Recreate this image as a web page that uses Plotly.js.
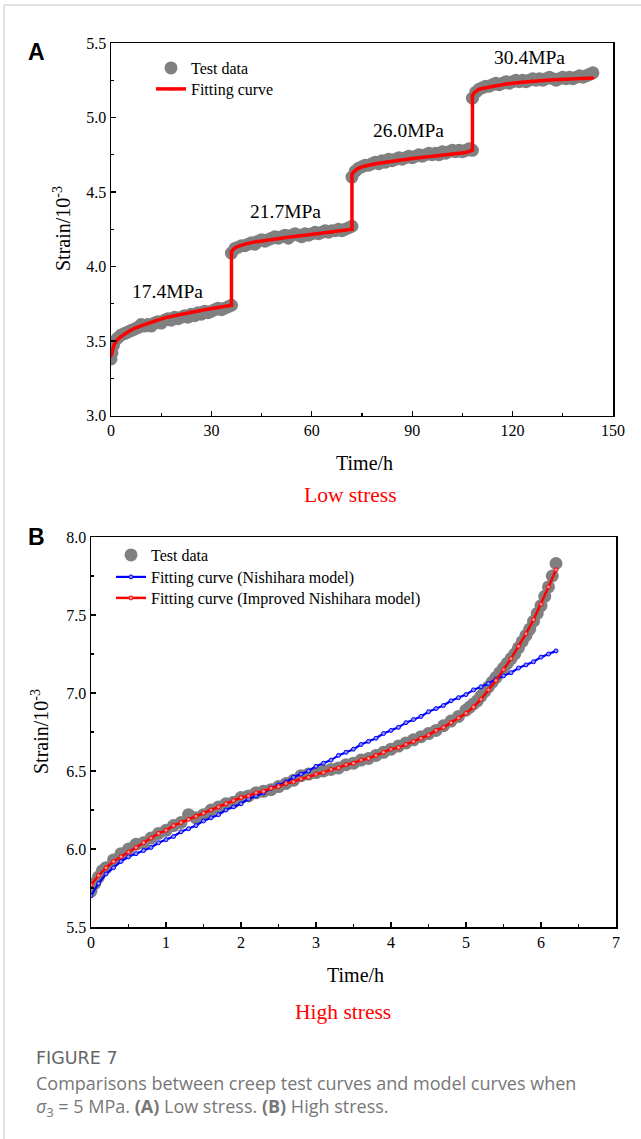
<!DOCTYPE html>
<html>
<head>
<meta charset="utf-8">
<script src="https://cdn.plot.ly/plotly-3.0.1.min.js"></script>
<style>html,body{margin:0;padding:0;background:#fff;}#chart{width:641px;height:1139px;}</style>
</head>
<body>
<div id="chart"></div>
<script>
// ---------- Panel A data (low stress) ----------
const aTestTime = [0,0.3,0.7,1.2,2,3,4,5,6,7,8,9,10,11,12,13,14,15,16,17,18,19,20,21,22,23,24,25,26,27,28,29,30,31,32,33,34,35,36,
  36,37,38,39,40,41,42,43,44,45,46,47,48,49,50,51,52,53,54,55,56,57,58,59,60,61,62,63,64,65,66,67,68,69,70,71,72,
  72,73,74,75,76,77,78,79,80,81,82,83,84,85,86,87,88,89,90,91,92,93,94,95,96,97,98,99,100,101,102,103,104,105,106,107,108,
  108,109,110,111,112,113,114,115,116,117,118,119,120,121,122,123,124,125,126,127,128,129,130,131,132,133,134,135,136,137,138,139,140,141,142,143,144];
const aTestStrain = [3.38,3.42,3.47,3.50,3.52,3.54,3.55,3.56,3.57,3.58,3.59,3.61,3.60,3.61,3.60,3.62,3.63,3.62,3.64,3.65,3.64,3.66,3.65,3.66,3.67,3.66,3.68,3.67,3.69,3.68,3.70,3.69,3.70,3.71,3.72,3.71,3.72,3.73,3.74,
  4.09,4.12,4.13,4.14,4.14,4.15,4.16,4.15,4.17,4.18,4.17,4.18,4.19,4.20,4.19,4.20,4.21,4.19,4.21,4.22,4.21,4.20,4.22,4.21,4.22,4.23,4.22,4.23,4.24,4.23,4.24,4.24,4.25,4.24,4.25,4.26,4.27,
  4.60,4.64,4.66,4.67,4.68,4.68,4.69,4.70,4.69,4.71,4.70,4.72,4.71,4.72,4.73,4.72,4.73,4.74,4.73,4.74,4.75,4.74,4.75,4.76,4.75,4.76,4.75,4.77,4.76,4.77,4.78,4.77,4.78,4.77,4.78,4.79,4.78,
  5.13,5.17,5.19,5.20,5.21,5.21,5.22,5.23,5.22,5.23,5.24,5.23,5.24,5.25,5.24,5.25,5.24,5.25,5.26,5.25,5.26,5.25,5.26,5.27,5.26,5.25,5.26,5.27,5.26,5.27,5.26,5.27,5.28,5.27,5.28,5.29,5.30];
const aFitTime = [0,0.5,1,2,3,5,7,10,13,16,20,24,28,32,36,
  36,36.5,37,38,40,43,46,50,54,58,62,66,70,72,
  72,72.5,73,74,76,79,82,86,90,94,98,102,106,108,
  108,108.5,109,110,112,115,118,122,126,130,134,138,142,144];
const aFitStrain = [3.40,3.45,3.48,3.51,3.53,3.56,3.585,3.61,3.635,3.655,3.675,3.695,3.71,3.725,3.74,
  4.10,4.115,4.125,4.135,4.15,4.165,4.175,4.19,4.20,4.21,4.22,4.23,4.24,4.25,
  4.62,4.635,4.645,4.66,4.675,4.69,4.70,4.715,4.725,4.735,4.745,4.755,4.765,4.78,
  5.15,5.165,5.175,5.19,5.20,5.215,5.225,5.235,5.245,5.25,5.255,5.26,5.265,5.265];
const aStageLabels = ["17.4MPa","21.7MPa","26.0MPa","30.4MPa"];
const aStageLabelX = [17, 52, 89, 125];
const aStageLabelY = [3.83, 4.37, 4.91, 5.40];

// ---------- Panel B data (high stress) ----------
const bTestTime = [0,0.05,0.1,0.15,0.2,0.3,0.4,0.5,0.6,0.7,0.8,0.9,1.0,1.1,1.2,1.3,1.4,1.5,1.6,1.7,1.8,1.9,2.0,2.1,2.2,2.3,2.4,2.5,2.6,2.7,2.8,2.9,3.0,3.1,3.2,3.3,3.4,3.5,3.6,3.7,3.8,3.9,4.0,4.1,4.2,4.3,4.4,4.5,4.6,4.7,4.8,4.9,
  5.0,5.05,5.1,5.15,5.2,5.25,5.3,5.35,5.4,5.45,5.5,5.55,5.6,5.65,5.7,5.75,5.8,5.85,5.9,5.95,6.0,6.05,6.1,6.15,6.2];
const bTestStrain = [5.73,5.78,5.82,5.86,5.88,5.93,5.97,6.00,6.03,6.04,6.07,6.10,6.12,6.15,6.17,6.22,6.20,6.22,6.25,6.27,6.29,6.30,6.33,6.34,6.36,6.37,6.38,6.40,6.42,6.44,6.47,6.48,6.49,6.50,6.51,6.52,6.54,6.55,6.57,6.58,6.60,6.62,6.64,6.66,6.68,6.70,6.72,6.74,6.76,6.79,6.82,6.85,
  6.89,6.91,6.93,6.95,6.98,7.01,7.04,7.07,7.10,7.13,7.16,7.19,7.22,7.25,7.29,7.33,7.37,7.41,7.46,7.51,7.56,7.62,7.68,7.75,7.83];
const bFitTime = [0,0.1,0.2,0.3,0.4,0.5,0.6,0.7,0.8,0.9,1.0,1.1,1.2,1.3,1.4,1.5,1.6,1.7,1.8,1.9,2.0,2.1,2.2,2.3,2.4,2.5,2.6,2.7,2.8,2.9,3.0,3.1,3.2,3.3,3.4,3.5,3.6,3.7,3.8,3.9,4.0,4.1,4.2,4.3,4.4,4.5,4.6,4.7,4.8,4.9,5.0,5.1,5.2,5.3,5.4,5.5,5.6,5.7,5.8,5.9,6.0,6.1,6.2];
const bNishihara = [5.70,5.78,5.84,5.88,5.92,5.95,5.97,5.99,6.01,6.04,6.06,6.08,6.11,6.13,6.15,6.18,6.20,6.22,6.25,6.27,6.29,6.32,6.34,6.36,6.39,6.41,6.43,6.46,6.48,6.50,6.53,6.55,6.57,6.60,6.62,6.64,6.67,6.69,6.71,6.74,6.76,6.78,6.81,6.83,6.85,6.88,6.90,6.92,6.95,6.97,6.99,7.02,7.04,7.06,7.09,7.11,7.13,7.16,7.18,7.20,7.23,7.25,7.27];
const bImproved = [5.77,5.83,5.88,5.92,5.95,5.98,6.01,6.04,6.07,6.10,6.12,6.15,6.17,6.19,6.21,6.23,6.25,6.27,6.29,6.31,6.33,6.34,6.36,6.37,6.39,6.40,6.42,6.43,6.45,6.46,6.48,6.49,6.51,6.52,6.54,6.55,6.57,6.58,6.60,6.62,6.64,6.65,6.67,6.69,6.71,6.73,6.76,6.78,6.81,6.84,6.87,6.91,6.96,7.02,7.08,7.15,7.22,7.30,7.38,7.47,7.57,7.68,7.79];

// ---------- layout helpers ----------
const W = 641, H = 1139;
const px = x => x / W;
const py = y => 1 - y / H;
const serif = "Liberation Serif, Times New Roman, serif";
const sans = "Liberation Sans, Arial, sans-serif";
const capFont = "Open Sans, Noto Sans, sans-serif";

const traces = [
  {x: aTestTime, y: aTestStrain, xaxis: 'x', yaxis: 'y', mode: 'markers', name: 'Test data', legend: 'legend',
   marker: {color: '#808080', size: 13, line: {width: 0}}},
  {x: aFitTime, y: aFitStrain, xaxis: 'x', yaxis: 'y', mode: 'lines+markers', name: 'Fitting curve', legend: 'legend2',
   line: {color: '#ff0000', width: 3.5}, marker: {color: '#ff0000', size: 3}},
  {x: bTestTime, y: bTestStrain, xaxis: 'x2', yaxis: 'y2', mode: 'markers', name: 'Test data', legend: 'legend3',
   marker: {color: '#808080', size: 13, line: {width: 0}}},
  {x: bFitTime, y: bNishihara, xaxis: 'x2', yaxis: 'y2', mode: 'lines+markers', name: 'Fitting curve (Nishihara model)', legend: 'legend4',
   line: {color: '#0000ff', width: 2.2}, marker: {color: '#9090ff', size: 4, line: {color: '#0000ff', width: 1}}},
  {x: bFitTime, y: bImproved, xaxis: 'x2', yaxis: 'y2', mode: 'lines+markers', name: 'Fitting curve (Improved Nishihara model)', legend: 'legend5',
   line: {color: '#ff0000', width: 2.5}, marker: {color: '#ff9090', size: 4, line: {color: '#ff0000', width: 1}}}
];

const axCommon = {
  showline: true, mirror: true, linecolor: '#000', linewidth: 1.5,
  showgrid: false, zeroline: false,
  ticks: 'inside', ticklen: 5, tickwidth: 1.3, tickcolor: '#000',
  tickfont: {family: serif, size: 16, color: '#000'}
};

const annotations = [];
aStageLabels.forEach((t, i) => annotations.push({
  x: aStageLabelX[i], y: aStageLabelY[i], xref: 'x', yref: 'y', text: t, showarrow: false,
  xanchor: 'center', yanchor: 'middle',
  font: {family: serif, size: 19.5, color: '#000'}
}));
const addText = (x, y, text, font, extra) => annotations.push(Object.assign({
  x: px(x), y: py(y), xref: 'paper', yref: 'paper', text: text, showarrow: false, font: font,
  xanchor: 'center', yanchor: 'middle'
}, extra || {}));

addText(36, 52, '<b>A</b>', {family: sans, size: 23, color: '#000'});
addText(36, 537, '<b>B</b>', {family: sans, size: 23, color: '#000'});
addText(364, 463, 'Time/h', {family: serif, size: 20, color: '#000'});
addText(62, 229, 'Strain/10<sup>-3</sup>', {family: serif, size: 20, color: '#000'}, {textangle: -90});
addText(350, 495, 'Low stress', {family: serif, size: 21.5, color: '#ff0000'});
addText(355, 975, 'Time/h', {family: serif, size: 20, color: '#000'});
addText(40, 732, 'Strain/10<sup>-3</sup>', {family: serif, size: 20, color: '#000'}, {textangle: -90});
addText(343, 1012, 'High stress', {family: serif, size: 21.5, color: '#ff0000'});
addText(34, 1058, 'FIGURE 7', {family: "DejaVu Sans, sans-serif", size: 17.5, color: '#666'}, {xanchor: 'left'});
addText(34, 1083, 'Comparisons between creep test curves and model curves when', {family: capFont, size: 18, color: '#777'}, {xanchor: 'left'});
addText(34, 1107, '<i>σ</i><sub>3</sub> = 5 MPa. <b>(A)</b> Low stress. <b>(B)</b> High stress.', {family: capFont, size: 18, color: '#777'}, {xanchor: 'left'});

const legFont = {family: serif, size: 16, color: '#000'};
const mkLegend = (x, y) => ({x: px(x), y: py(y), xanchor: 'left', yanchor: 'middle', xref: 'paper', yref: 'paper',
  bgcolor: 'rgba(0,0,0,0)', borderwidth: 0, font: legFont, tracegroupgap: 0});

const layout = {
  width: W, height: H,
  margin: {l: 0, r: 0, t: 0, b: 0},
  paper_bgcolor: '#fff', plot_bgcolor: '#fff',
  showlegend: true,
  xaxis: Object.assign({}, axCommon, {domain: [px(111), px(613)], range: [0, 150], dtick: 30, tick0: 0, anchor: 'y',
    minor: {ticks: 'inside', ticklen: 3, dtick: 15, tick0: 0, tickcolor: '#000', tickwidth: 1.2}}),
  yaxis: Object.assign({}, axCommon, {domain: [py(415.5), py(43)], range: [3.0, 5.5], dtick: 0.5, tick0: 3, tickformat: '.1f', anchor: 'x',
    minor: {ticks: 'inside', ticklen: 3, dtick: 0.25, tick0: 0, tickcolor: '#000', tickwidth: 1.2}}),
  xaxis2: Object.assign({}, axCommon, {domain: [px(91), px(616)], range: [0, 7], dtick: 1, tick0: 0, anchor: 'y2',
    minor: {ticks: 'inside', ticklen: 3, dtick: 0.5, tick0: 0, tickcolor: '#000', tickwidth: 1.2}}),
  yaxis2: Object.assign({}, axCommon, {domain: [py(927), py(537)], range: [5.5, 8.0], dtick: 0.5, tick0: 5.5, tickformat: '.1f', anchor: 'x2',
    minor: {ticks: 'inside', ticklen: 3, dtick: 0.25, tick0: 0, tickcolor: '#000', tickwidth: 1.2}}),
  legend: mkLegend(151, 68),
  legend2: mkLegend(151, 89),
  legend3: mkLegend(111, 555),
  legend4: mkLegend(111, 577),
  legend5: mkLegend(111, 598),
  annotations: annotations,
  shapes: [
    {type: 'line', xref: 'paper', yref: 'paper', x0: px(4), x1: 1, y0: py(5), y1: py(5), line: {color: '#d9d9d9', width: 1.5}},
    {type: 'line', xref: 'paper', yref: 'paper', x0: px(4), x1: px(4), y0: py(5), y1: 0, line: {color: '#d9d9d9', width: 1.5}}
  ]
};

Plotly.newPlot('chart', traces, layout, {displayModeBar: false, staticPlot: true});
</script>
</body>
</html>
